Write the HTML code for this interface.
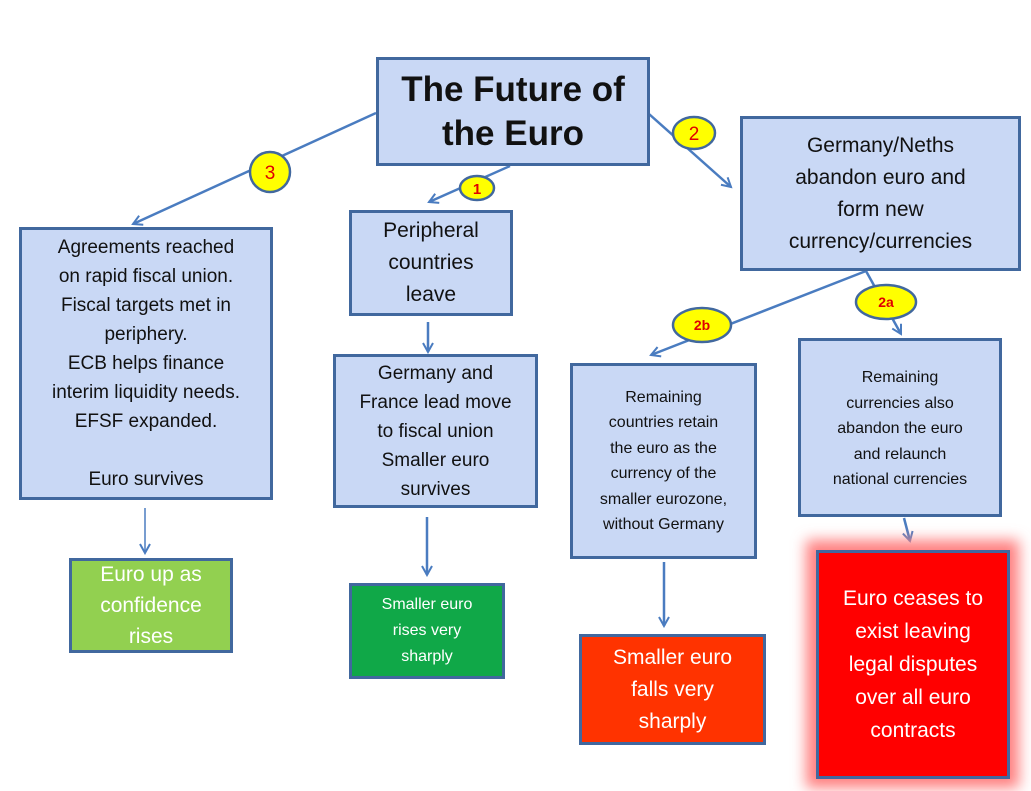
<!DOCTYPE html>
<html><head><meta charset="utf-8">
<style>
html,body{margin:0;padding:0;background:#fff;}
body{width:1031px;height:791px;position:relative;overflow:hidden;font-family:"Liberation Sans",sans-serif;}
.b{position:absolute;box-sizing:border-box;border:3px solid #41689e;background:#c9d8f5;display:flex;flex-direction:column;justify-content:center;align-items:center;text-align:center;color:#111;}
.w{color:#fff;}
svg{position:absolute;left:0;top:0;}
</style></head><body>
<svg width="1031" height="791">
<defs><marker id="a" markerWidth="12" markerHeight="12" refX="10" refY="6" orient="auto" markerUnits="userSpaceOnUse"><path d="M1,1 L10,6 L1,11" fill="none" stroke="#4a7cc0" stroke-width="2"/></marker>
<filter id="g" x="-20%" y="-20%" width="140%" height="140%"><feGaussianBlur stdDeviation="7"/></filter></defs>
<g stroke="#4a7cc0" stroke-width="2.5" fill="none">
<line x1="376" y1="113" x2="133" y2="224" marker-end="url(#a)"/>
<line x1="510" y1="166" x2="429" y2="202" marker-end="url(#a)"/>
<line x1="649" y1="114" x2="731" y2="187" marker-end="url(#a)"/>
<line x1="866" y1="271" x2="651" y2="355" marker-end="url(#a)"/>
<line x1="866" y1="271" x2="901" y2="334" marker-end="url(#a)"/>
<line x1="145" y1="508" x2="145" y2="553" marker-end="url(#a)" stroke-width="1.5"/>
<line x1="428" y1="322" x2="428" y2="352" marker-end="url(#a)"/>
<line x1="427" y1="517" x2="427" y2="575" marker-end="url(#a)"/>
<line x1="664" y1="562" x2="664" y2="626" marker-end="url(#a)"/>
<line x1="904" y1="518" x2="910" y2="541" marker-end="url(#a)"/>
</g>
<rect x="806" y="540" width="213" height="248" fill="#ff8080" filter="url(#g)"/>
<g stroke="#41689e" stroke-width="2.5" fill="#ffff00">
<circle cx="270" cy="172" r="20"/>
<ellipse cx="477" cy="188" rx="17" ry="12"/>
<ellipse cx="694" cy="133" rx="21" ry="16"/>
<ellipse cx="702" cy="325" rx="29" ry="17"/>
<ellipse cx="886" cy="302" rx="30" ry="17"/>
</g>
<g fill="#e00000" font-family="Liberation Sans,sans-serif" font-weight="bold" text-anchor="middle">
<text x="270" y="179" font-size="19" font-weight="normal">3</text>
<text x="477" y="194" font-size="15">1</text>
<text x="694" y="140" font-size="19" font-weight="normal">2</text>
<text x="702" y="330" font-size="14">2b</text>
<text x="886" y="307" font-size="14">2a</text>
</g>
</svg>
<div class="b" style="left:376px;top:57px;width:274px;height:109px;font-size:35px;font-weight:bold;line-height:44px;">The Future of<br>the Euro</div>
<div class="b" style="left:19px;top:227px;width:254px;height:273px;font-size:19px;line-height:29px;">Agreements reached<br>on rapid fiscal union.<br>Fiscal targets met in<br>periphery.<br>ECB helps finance<br>interim liquidity needs.<br>EFSF expanded.<br><br>Euro survives</div>
<div class="b" style="left:349px;top:210px;width:164px;height:106px;font-size:21px;line-height:32px;">Peripheral<br>countries<br>leave</div>
<div class="b" style="left:333px;top:354px;width:205px;height:154px;font-size:19px;line-height:29px;">Germany and<br>France lead move<br>to fiscal union<br>Smaller euro<br>survives</div>
<div class="b" style="left:740px;top:116px;width:281px;height:155px;font-size:21px;line-height:32px;">Germany/Neths<br>abandon euro and<br>form new<br>currency/currencies</div>
<div class="b" style="left:570px;top:363px;width:187px;height:196px;font-size:16px;line-height:25.5px;">Remaining<br>countries retain<br>the euro as the<br>currency of the<br>smaller eurozone,<br>without Germany</div>
<div class="b" style="left:798px;top:338px;width:204px;height:179px;font-size:16px;line-height:25.5px;justify-content:flex-start;padding-top:24px;">Remaining<br>currencies also<br>abandon the euro<br>and relaunch<br>national currencies</div>
<div class="b w" style="left:69px;top:558px;width:164px;height:95px;background:#92d050;font-size:21px;line-height:31px;">Euro up as<br>confidence<br>rises</div>
<div class="b w" style="left:349px;top:583px;width:156px;height:96px;background:#10a848;font-size:16px;line-height:26px;">Smaller euro<br>rises very<br>sharply</div>
<div class="b w" style="left:579px;top:634px;width:187px;height:111px;background:#ff3300;font-size:21px;line-height:32px;">Smaller euro<br>falls very<br>sharply</div>
<div class="b w" style="left:816px;top:550px;width:194px;height:229px;background:#ff0000;font-size:21px;line-height:33px;">Euro ceases to<br>exist leaving<br>legal disputes<br>over all euro<br>contracts</div>
</body></html>
